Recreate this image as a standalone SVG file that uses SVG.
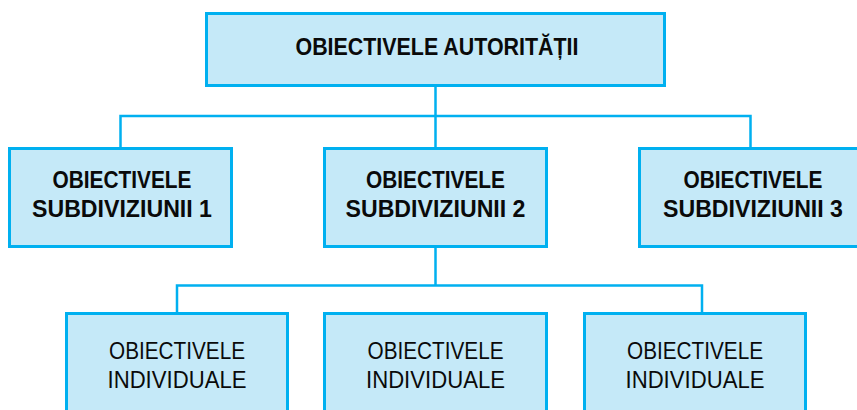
<svg xmlns="http://www.w3.org/2000/svg" width="857" height="410" viewBox="0 0 857 410">
<style>
.box{fill:#C5E9F8;stroke:#00B0F0;stroke-width:3}
.conn{fill:none;stroke:#00B0F0;stroke-width:2.5}
text{font-family:"Liberation Sans",Arial,sans-serif;font-size:23px;fill:#0a0a0a;text-anchor:middle}
.b{font-weight:bold}
</style>
<rect width="857" height="410" fill="#ffffff"/>
<g id="connectors">
<path class="conn" d="M435.5 87 V116 M120.5 147 V116 H750.5 V147 M435.5 116 V147"/>
<path class="conn" d="M435.5 248 V285.5 M177 312 V285.5 H702 V312"/>
</g>
<g id="top">
<rect class="box" x="206.5" y="13.5" width="458" height="72"/>
<text class="b" x="437" y="55" textLength="283" lengthAdjust="spacingAndGlyphs">OBIECTIVELE AUTORITĂȚII</text>
</g>
<g id="sub1">
<rect class="box" x="9.5" y="148.5" width="222" height="98"/>
<text class="b" x="122" y="188" textLength="139" lengthAdjust="spacingAndGlyphs">OBIECTIVELE</text>
<text class="b" x="122" y="217" textLength="180" lengthAdjust="spacingAndGlyphs">SUBDIVIZIUNII 1</text>
</g>
<g id="sub2">
<rect class="box" x="324.5" y="148.5" width="222" height="98"/>
<text class="b" x="435.5" y="188" textLength="139" lengthAdjust="spacingAndGlyphs">OBIECTIVELE</text>
<text class="b" x="435.5" y="217" textLength="180" lengthAdjust="spacingAndGlyphs">SUBDIVIZIUNII 2</text>
</g>
<g id="sub3">
<rect class="box" x="639.5" y="148.5" width="222" height="98"/>
<text class="b" x="753" y="188" textLength="139" lengthAdjust="spacingAndGlyphs">OBIECTIVELE</text>
<text class="b" x="753" y="217" textLength="180" lengthAdjust="spacingAndGlyphs">SUBDIVIZIUNII 3</text>
</g>
<g id="ind1">
<rect class="box" x="66.5" y="313.5" width="221" height="110"/>
<text x="177" y="359" textLength="136" lengthAdjust="spacingAndGlyphs">OBIECTIVELE</text>
<text x="177" y="388" textLength="139" lengthAdjust="spacingAndGlyphs">INDIVIDUALE</text>
</g>
<g id="ind2">
<rect class="box" x="324.5" y="313.5" width="222" height="110"/>
<text x="435.5" y="359" textLength="136" lengthAdjust="spacingAndGlyphs">OBIECTIVELE</text>
<text x="435.5" y="388" textLength="139" lengthAdjust="spacingAndGlyphs">INDIVIDUALE</text>
</g>
<g id="ind3">
<rect class="box" x="584.5" y="313.5" width="221" height="110"/>
<text x="695" y="359" textLength="136" lengthAdjust="spacingAndGlyphs">OBIECTIVELE</text>
<text x="695" y="388" textLength="139" lengthAdjust="spacingAndGlyphs">INDIVIDUALE</text>
</g>
</svg>
